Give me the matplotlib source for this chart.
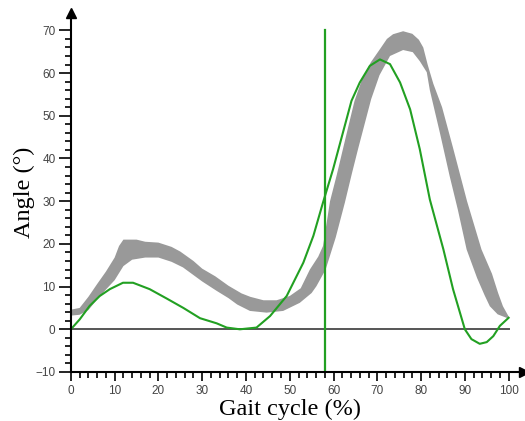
import numpy as np
import matplotlib
matplotlib.use("Agg")
import matplotlib.pyplot as plt

# normal band (mean +/- SD), upper and lower edges
band_up_x = [0, 2, 4, 6, 8, 10, 11, 12, 15, 17, 20, 23, 25, 28, 30, 33, 36, 39, 41, 44,
             47, 50, 52.5, 54.6, 56.5, 57.6, 59.2, 60.7, 62.1, 63.5, 64.8, 66.5, 68.5, 70.6,
             72.2, 73.6, 75.9, 78, 79.5, 80.5, 81.5, 82.8, 84.8, 87.3, 90.5, 93.8, 96.2, 97.6,
             98.7, 100]
band_up_y = [4.6, 5.0, 7.6, 10.6, 13.5, 16.8, 19.5, 21.0, 21.0, 20.5, 20.3, 19.3, 18.2, 16.0,
             14.2, 12.4, 10.2, 8.4, 7.6, 6.8, 6.8, 7.8, 9.6, 14.0, 17.0, 19.5, 30.0, 36.0, 42.0,
             48.0, 53.5, 58.5, 62.5, 65.6, 68.0, 69.1, 69.8, 69.2, 67.8, 66.0, 62.0, 57.5,
             52.0, 42.5, 30.0, 18.7, 13.0, 8.5, 5.4, 3.0]
band_lo_x = [0, 2, 4, 6, 8, 10, 12, 14, 17, 20, 23, 25.6, 28, 30, 33.3, 36, 38, 40.9, 44.7,
             48.5, 52.3, 55, 56.1, 58.2, 60.5, 62.6, 64.2, 65.6, 68.6, 70.5, 72.9, 75.9, 78.1,
             79.7, 81.3, 82.0, 84.3, 86.5, 88.4, 90.4, 92.8, 94.5, 95.7, 97.5, 100]
band_lo_y = [3.2, 3.4, 4.5, 7.0, 9.3, 11.5, 14.8, 16.3, 16.8, 16.8, 15.8, 14.5, 12.7, 11.2,
             9.0, 7.3, 5.8, 4.3, 3.9, 4.3, 6.2, 8.5, 10.1, 14.0, 21.5, 29.7, 36.5, 42.2,
             53.9, 59.5, 64.0, 65.4, 64.9, 62.8, 60.2, 56.0, 46.0, 36.0, 28.0, 18.7, 12.0,
             8.0, 5.4, 3.5, 2.5]

# patient curve
gait_x = [0, 2, 4.3, 6.6, 8.9, 11.9, 14.2, 18, 21.9, 25.7, 29.5, 33.3, 35.6, 38.6, 42.4,
          45.5, 49.3, 53.1, 55.4, 57.6, 59.9, 62, 64.1, 66, 68.3, 70.6, 72.9, 75.2,
          77.5, 79.7, 82, 85.1, 87.3, 90, 91.5, 93.4, 95, 96.5, 98, 100]
gait_y = [0, 2.3, 5.5, 7.8, 9.4, 10.9, 10.9, 9.4, 7.2, 5.0, 2.6, 1.4, 0.4, 0, 0.4,
          3.1, 7.8, 15.6, 21.9, 29.7, 37.5, 45.5, 53.5, 57.8, 61.7, 63.2, 62.1, 57.8,
          51.5, 42.2, 30.4, 18.7, 9.4, 0, -2.3, -3.4, -3.0, -1.6, 0.8, 2.7]

toe_off = 58

fig = plt.figure(figsize=(5.25, 4.21), dpi=100)
ax = fig.add_axes([0.135, 0.1164, 0.863, 0.852])

ax.fill(np.concatenate([band_up_x, band_lo_x[::-1]]),
        np.concatenate([band_up_y, band_lo_y[::-1]]),
        color="#999999", lw=0)
ax.plot([0, 100], [0, 0], color="#555555", lw=1.4)
ax.plot(gait_x, gait_y, color="#22a022", lw=1.5)
ax.plot([toe_off, toe_off], [-10, 70], color="#22a022", lw=1.6)

ax.set_xlim(0, 103.5)
ax.set_ylim(-10, 74)
for s in ["top", "right"]:
    ax.spines[s].set_visible(False)
ax.spines["left"].set_linewidth(1.5)
ax.spines["bottom"].set_linewidth(1.5)

# arrow heads at the ends of the axes
ax.plot(1, -10, ">k", ms=7, transform=ax.get_yaxis_transform(), clip_on=False)
ax.plot(0, 1, "^k", ms=7, transform=ax.get_xaxis_transform(), clip_on=False)

ax.set_xticks(np.arange(0, 101, 10))
ax.set_yticks(np.arange(-10, 71, 10))
ax.set_xticks(np.arange(0, 101, 2), minor=True)
ax.set_yticks(np.arange(-10, 71, 2), minor=True)
ax.tick_params(axis="y", which="major", length=9, width=1.2, labelsize=8.5, labelcolor="#444444", pad=2)
ax.tick_params(axis="y", which="minor", length=4, width=1.2)
ax.tick_params(axis="x", which="major", length=6.5, width=1.2, labelsize=8.5, labelcolor="#444444", pad=3)
ax.tick_params(axis="x", which="minor", length=4, width=1.2)
for lab in ax.get_xticklabels() + ax.get_yticklabels():
    lab.set_family("Liberation Sans")

ax.set_xlabel("Gait cycle (%)", family="Liberation Serif", fontsize=17.5, labelpad=-1)
ax.set_ylabel("Angle (°)", family="Liberation Serif", fontsize=17.5, labelpad=0)
ax.xaxis.set_label_coords(50 / 103.5, -0.075)

fig.savefig("out.png", dpi=100)
